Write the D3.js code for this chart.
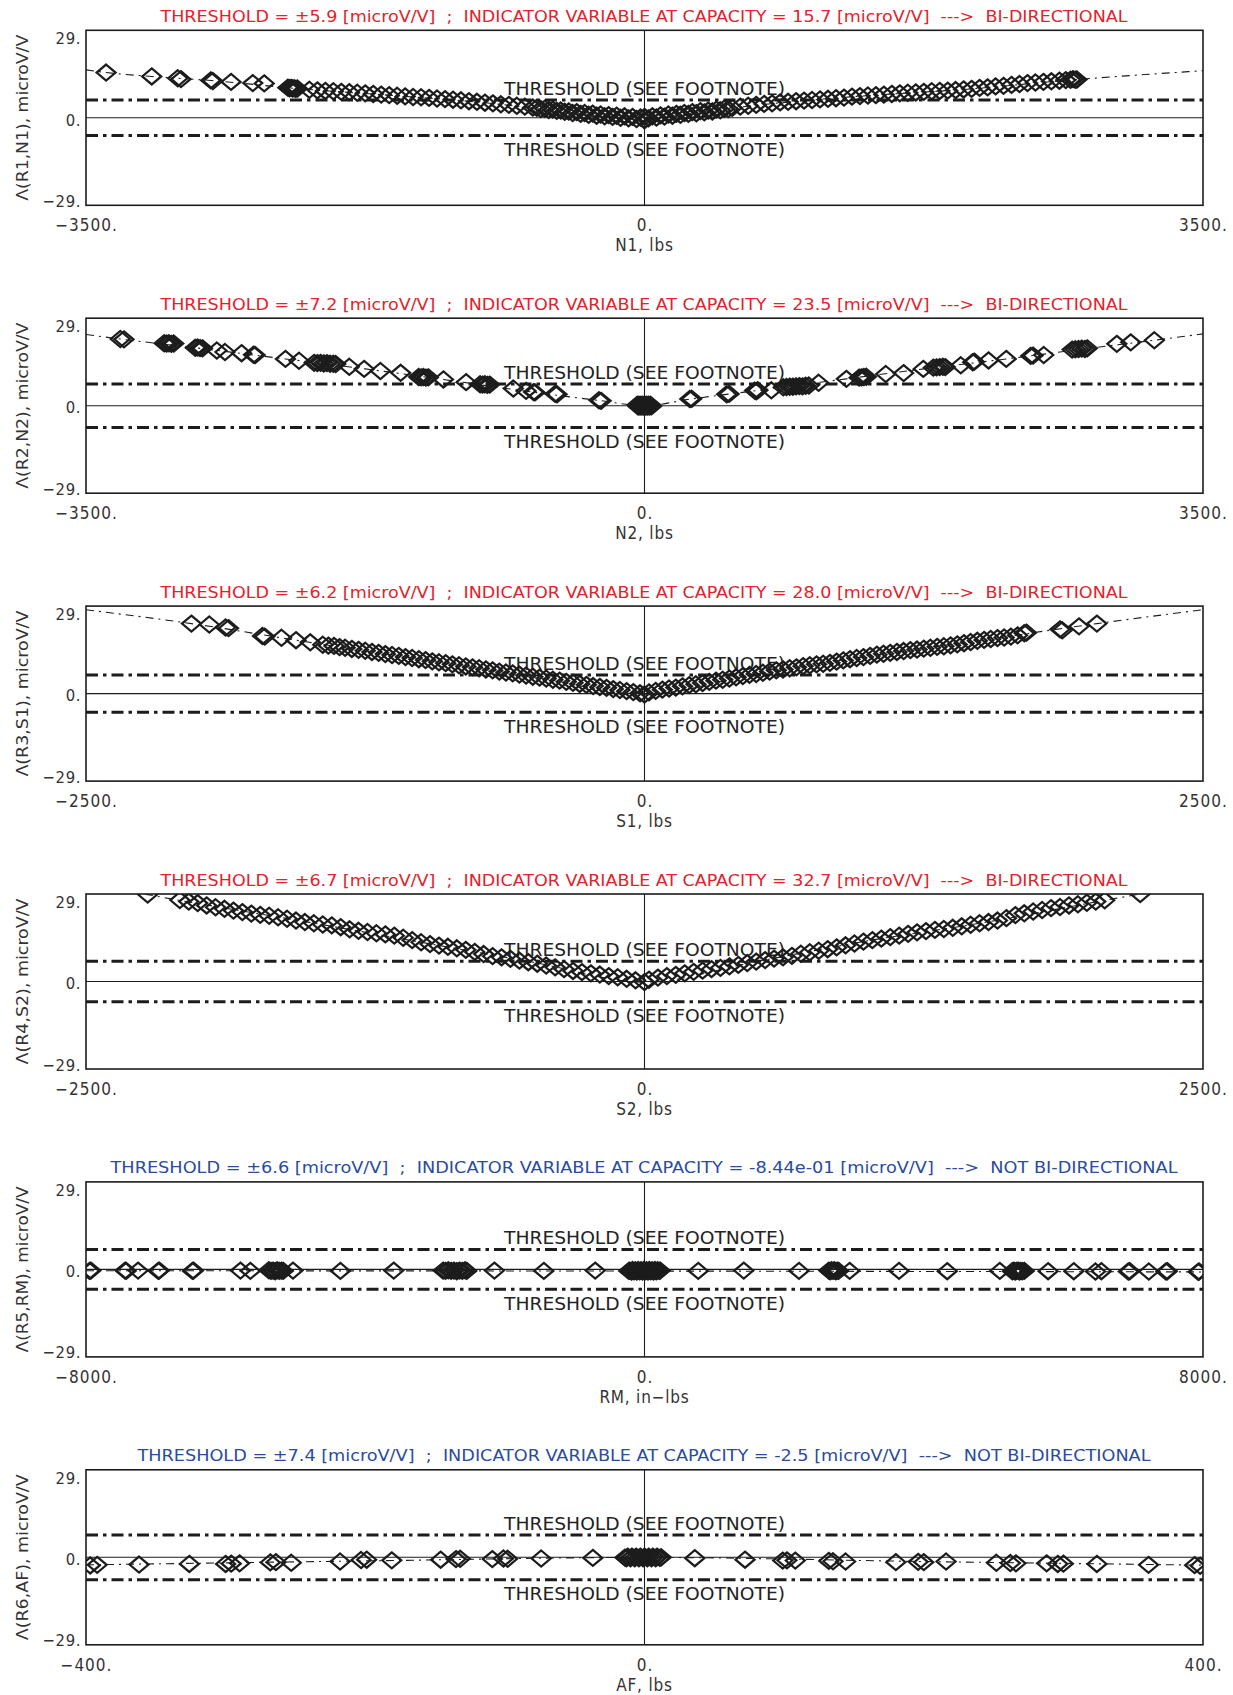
<!DOCTYPE html>
<html>
<head>
<meta charset="utf-8">
<script src="https://cdn.jsdelivr.net/npm/d3@7"></script>
<style>
  body { margin: 0; background: #fff; }
  svg { display: block; }
  text { font-family: "Liberation Sans Narrow", "DejaVu Sans Condensed", "Liberation Sans", sans-serif; }
</style>
</head>
<body>
<svg id="chart" width="1233" height="1695"></svg>
<script>
// ---------------------------------------------------------------- dados
// pares [carga, lambda microV/V]
const n1Points = [
  [-3374,15.0],[-3088,13.7],[-2925,13.1],[-2905,12.8],[-2718,12.4],[-2705,12.2],[-2591,11.9],[-2455,11.5],[-2383,11.4],
  [-2235,10.0],[-2225,9.8],[-2215,9.9],[-2205,9.7],[-2195,9.8],[-2185,9.6],[-2175,9.7],
  [-2100,9.3],[-2050,9.1],[-2000,8.9],[-1950,8.8],[-1900,8.6],[-1850,8.5],[-1800,8.3],[-1750,8.1],[-1700,7.9],
  [-1650,7.7],[-1600,7.5],[-1550,7.3],[-1500,7.1],[-1450,6.9],[-1400,6.8],[-1350,6.6],[-1300,6.4],[-1250,6.2],
  [-1200,6.0],[-1150,5.8],[-1100,5.5],[-1050,5.3],[-1000,5.0],[-950,4.8],[-900,4.5],[-850,4.3],[-800,4.0],
  [-750,3.7],[-700,3.4],[-675,3.3],[-650,2.9],[-625,3.0],[-600,2.6],[-575,2.7],[-550,2.3],[-525,2.4],[-500,2.0],
  [-475,2.1],[-450,1.6],[-425,1.9],[-400,1.3],[-375,1.6],[-350,1.0],[-325,1.4],[-300,0.7],[-275,1.1],[-250,0.5],
  [-225,0.9],[-200,0.3],[-175,0.7],[-150,0.0],[-125,0.5],[-100,-0.2],[-75,0.3],[-50,-0.4],[-25,0.1],[0,-0.8],
  [0,0.3],[25,-0.2],[50,0.5],[75,0.1],[100,0.8],[125,0.4],[150,1.1],[175,0.7],[200,1.3],[225,1.0],[250,1.6],
  [275,1.3],[300,1.9],[325,1.5],[350,2.2],[375,1.8],[400,2.4],[425,2.1],[450,2.7],[475,2.5],[500,3.0],[525,2.9],
  [550,3.3],[600,3.7],[650,4.0],[700,4.3],[750,4.6],[800,4.8],[850,5.1],[900,5.3],[950,5.5],[1000,5.7],
  [1050,5.9],[1100,6.1],[1150,6.3],[1200,6.5],[1250,6.7],[1300,7.0],[1350,7.2],[1400,7.4],[1450,7.5],[1500,7.7],
  [1550,7.9],[1600,8.1],[1650,8.3],[1700,8.4],[1750,8.6],[1800,8.8],[1850,8.9],[1900,9.0],[1950,9.2],[2000,9.4],
  [2050,9.6],[2100,9.9],[2150,10.1],[2200,10.4],[2250,10.6],[2300,10.9],[2350,11.2],[2400,11.5],[2450,11.7],
  [2500,11.9],[2550,12.1],[2600,12.3],[2640,12.5],[2670,12.6],[2685,12.8],[2700,12.6],[2710,12.7]
];
const n1Fit = [[-3500,15.9],[-3374,15.0],[-3088,13.7],[-2700,12.3],[-2200,9.8],[-1500,7.1],[-1000,5.0],
  [-500,2.0],[0,-0.2],[500,3.0],[1000,5.7],[1500,7.7],[2000,9.4],[2710,12.7],[3500,15.6]];

const n2Points = [
  [-3285,22.1],[-3262,22.0],
  [-3010,20.7],[-2995,20.6],[-2980,20.7],[-2965,20.5],[-2950,20.6],
  [-2815,19.2],[-2800,19.3],[-2785,19.1],[-2770,19.0],
  [-2680,18.3],[-2629,17.8],[-2525,17.4],[-2450,16.9],[-2440,16.8],[-2250,15.5],[-2165,14.9],
  [-2070,14.2],[-2050,14.1],[-2030,14.2],[-2010,14.0],[-1990,14.1],[-1970,13.9],[-1950,13.9],[-1935,13.8],
  [-1850,12.9],[-1757,12.2],[-1655,11.5],[-1528,10.9],
  [-1415,9.5],[-1400,9.4],[-1385,9.5],[-1370,9.3],[-1355,9.4],
  [-1260,8.7],[-1118,7.8],
  [-1030,7.1],[-1015,7.0],[-1000,7.1],[-985,6.9],[-970,7.0],
  [-822,5.7],[-742,4.9],[-695,4.5],[-686,4.4],[-560,3.9],[-548,3.8],[-285,1.8],[-272,1.6],
  [-45,0.3],[-40,-0.3],[-34,0.3],[-28,-0.3],[-22,0.3],[-16,-0.3],[-10,0.3],[-4,-0.3],[2,0.3],[8,-0.3],
  [14,0.3],[20,-0.3],[26,0.3],[32,-0.3],[38,0.3],[44,-0.2],
  [284,2.2],[296,2.3],[515,3.8],[530,3.9],[690,5.0],[700,4.8],[710,5.1],[795,5.1],
  [870,6.1],[890,6.2],[910,6.3],[930,6.3],[950,6.4],[970,6.5],[990,6.4],[1010,6.6],[1030,6.7],
  [1091,7.6],[1265,8.9],[1345,9.3],[1360,9.4],[1375,9.5],[1390,9.6],
  [1512,10.5],[1624,10.8],[1747,12.2],
  [1810,12.6],[1830,12.7],[1850,12.8],[1870,12.9],[1885,12.8],
  [1982,13.4],[2057,14.4],[2067,14.6],[2156,15.0],[2267,15.5],[2420,16.5],[2435,16.6],[2502,16.8],
  [2680,18.6],[2700,18.7],[2720,18.8],[2740,18.9],[2760,18.8],[2775,19.0],
  [2960,20.5],[3047,21.0],[3195,21.7]
];
const n2Fit = [[-3500,23.6],[-3285,22.1],[-2800,19.1],[-2250,15.5],[-1750,12.2],[-1250,8.6],[-700,4.5],
  [-280,1.7],[0,0.0],[290,2.2],[700,5.0],[1265,8.9],[1750,12.2],[2270,15.5],[2750,18.8],[3195,21.7],[3500,23.8]];

const s1Points = [
  [-2028,23.2],[-1948,22.9],[-1875,21.9],[-1862,21.7],[-1710,19.1],[-1700,18.9],[-1625,18.5],[-1560,17.7],[-1496,17.0],
  [-1440,16.2],[-1415,15.9],[-1390,15.8],[-1365,15.4],[-1340,15.2],[-1310,14.8],[-1280,14.5],[-1250,14.2],
  [-1220,13.8],[-1190,13.5],[-1160,13.1],[-1130,12.8],[-1100,12.5],[-1070,12.1],[-1040,11.8],[-1010,11.4],
  [-980,11.1],[-950,10.7],[-920,10.4],[-890,10.1],[-860,9.7],[-830,9.4],[-800,9.0],[-770,8.7],[-740,8.4],
  [-710,8.0],[-680,7.7],[-650,7.3],[-620,7.0],[-590,6.7],[-560,6.3],[-530,6.0],[-500,5.6],[-470,5.3],
  [-440,5.0],[-410,4.6],[-380,4.3],[-350,3.9],[-320,3.6],[-290,3.2],[-260,2.9],[-230,2.5],[-200,2.2],
  [-170,1.9],[-140,1.5],[-110,1.2],[-80,0.8],[-50,0.5],[-20,0.1],[0,-0.3],
  [20,0.4],[50,0.9],[80,1.3],[110,1.7],[140,2.0],[170,2.4],[200,2.8],[230,3.1],[260,3.5],[290,3.9],
  [320,4.3],[350,4.6],[380,5.0],[410,5.4],[440,5.8],[470,6.2],[500,6.5],[530,6.9],[560,7.3],[590,7.7],
  [620,8.0],[650,8.4],[680,8.7],[710,9.1],[740,9.4],[770,9.7],[800,9.9],[830,10.2],[860,10.6],[890,11.0],
  [920,11.4],[950,11.8],[980,12.1],[1010,12.5],[1040,12.9],[1070,13.2],[1100,13.5],[1130,13.8],[1160,14.1],
  [1190,14.4],[1220,14.6],[1250,14.9],[1280,15.2],[1310,15.5],[1340,15.7],[1370,16.0],[1400,16.3],[1430,16.7],
  [1460,17.1],[1490,17.5],[1520,17.8],[1550,18.1],[1580,18.4],[1610,18.6],[1640,18.9],[1670,19.3],[1700,20.0],
  [1710,20.2],[1860,21.3],[1870,21.0],[1945,22.3],[2025,23.2]
];
const s1Fit = [[-2500,27.8],[-2028,23.2],[-1500,17.0],[-1000,11.3],[-500,5.6],[0,-0.2],
  [500,6.5],[1000,12.4],[1500,17.6],[2025,23.2],[2500,27.8]];

const s2Points = [
  [-2224,28.8],[-2080,27.0],[-2040,26.5],[-2000,26.0],[-1960,25.2],[-1920,24.6],[-1880,24.1],[-1840,23.5],
  [-1800,23.0],[-1760,22.5],[-1720,22.1],[-1680,21.8],[-1640,21.3],[-1600,20.8],[-1560,20.2],[-1520,19.7],
  [-1480,19.3],[-1440,18.9],[-1400,18.6],[-1360,18.0],[-1320,17.3],[-1280,16.8],[-1240,16.4],[-1200,16.0],
  [-1160,15.6],[-1120,15.2],[-1080,14.5],[-1040,13.7],[-1000,13.0],[-960,12.4],[-920,11.9],[-880,11.5],
  [-840,11.0],[-800,10.5],[-760,9.8],[-720,9.1],[-680,8.4],[-640,8.0],[-600,7.5],[-560,6.9],[-520,6.4],
  [-480,5.9],[-440,5.3],[-400,4.7],[-360,4.1],[-320,3.5],[-280,3.1],[-240,2.7],[-200,2.3],[-160,1.8],
  [-120,1.4],[-80,0.9],[-40,0.4],[0,-0.2],
  [20,0.6],[60,1.3],[100,1.8],[140,2.2],[180,2.7],[220,3.2],[260,3.6],[300,4.1],[340,4.5],[380,5.0],
  [420,5.5],[460,6.1],[500,6.6],[540,7.1],[580,7.6],[620,8.0],[660,8.5],[700,9.2],[740,9.7],[780,10.2],
  [820,10.7],[860,11.3],[900,12.0],[940,12.6],[980,13.2],[1020,13.7],[1060,14.2],[1100,14.7],[1140,15.2],
  [1180,15.8],[1220,16.3],[1260,16.7],[1300,17.1],[1340,17.4],[1380,17.8],[1420,18.3],[1460,18.8],[1500,19.3],
  [1540,19.7],[1580,20.2],[1620,21.0],[1660,22.0],[1700,22.6],[1740,23.2],[1780,23.7],[1820,24.3],[1860,24.7],
  [1900,25.2],[1940,25.6],[1980,26.1],[2020,26.5],[2060,26.9],[2219,29.0]
];
const s2Fit = [[-2500,32.7],[-2224,28.8],[-1500,19.6],[-1000,13.0],[-500,6.4],[0,-0.2],
  [500,6.6],[1000,13.5],[1500,19.3],[2060,26.9],[2219,29.0],[2500,32.7]];

const rmPoints = [
  [-7950,-0.5],[-7930,-0.4],[-7440,-0.4],[-7425,-0.5],[-7254,-0.4],[-6965,-0.5],[-6950,-0.4],[-6475,-0.5],
  [-6460,-0.4],[-5788,-0.4],[-5646,-0.5],
  [-5380,-0.3],[-5350,-0.5],[-5320,-0.4],[-5290,-0.6],[-5260,-0.3],[-5230,-0.5],[-5200,-0.4],[-5175,-0.5],
  [-5035,-0.4],[-4356,-0.5],[-3592,-0.4],
  [-2885,-0.4],[-2850,-0.5],[-2810,-0.3],[-2770,-0.5],[-2730,-0.4],[-2690,-0.6],[-2650,-0.4],[-2610,-0.5],
  [-2570,-0.3],[-2546,-0.5],
  [-2150,-0.4],[-1442,-0.5],[-706,-0.4],
  [-225,-0.5],[-210,-0.4],[-185,-0.7],[-170,-0.2],[-150,-0.6],[-130,-0.3],[-110,-0.7],[-90,-0.2],[-70,-0.6],
  [-50,-0.3],[-30,-0.7],[-10,-0.2],[10,-0.6],[30,-0.3],[50,-0.7],[70,-0.2],[90,-0.6],[110,-0.3],[130,-0.7],
  [150,-0.2],[170,-0.6],[190,-0.3],[210,-0.5],[225,-0.4],
  [770,-0.5],[1422,-0.4],[2213,-0.5],
  [2640,-0.4],[2660,-0.6],[2680,-0.3],[2700,-0.5],[2720,-0.3],[2740,-0.6],[2760,-0.4],[2780,-0.5],
  [2939,-0.5],[3646,-0.5],[4336,-0.6],[5089,-0.5],
  [5270,-0.6],[5290,-0.4],[5310,-0.7],[5330,-0.5],[5350,-0.4],[5370,-0.7],[5390,-0.5],[5410,-0.6],[5440,-0.5],
  [5781,-0.6],[6149,-0.6],[6460,-0.7],[6544,-0.6],[6930,-0.7],[6950,-0.6],[7224,-0.7],[7470,-0.7],
  [7488,-0.6],[7931,-0.8],[7945,-0.7]
];
const rmFit = [[-8000,-0.45],[0,-0.55],[8000,-0.84]];

const afPoints = [
  [-397,-2.7],[-392,-2.5],[-362,-2.4],[-326,-2.2],[-300,-2.2],[-296,-2.1],[-290,-2.0],[-268,-1.7],[-264,-1.6],
  [-253,-1.8],[-218,-1.4],[-203,-0.9],[-199,-0.8],[-181,-1.0],[-146,-0.8],[-135,-0.6],[-132,-0.5],[-109,-0.6],
  [-101,-0.4],[-98,-0.5],[-74,-0.4],[-37,-0.2],
  [-14,-0.1],[-13,-0.3],[-12,0.2],[-10,-0.3],[-9,0.2],[-7,-0.3],[-6,0.2],[-4,-0.3],[-3,0.2],[-1,-0.3],
  [0,0.2],[2,-0.3],[3,0.2],[5,-0.3],[6,0.2],[8,-0.3],[9,0.2],[11,-0.2],[12,0.0],
  [36,-0.3],[72,-0.8],[99,-1.1],[102,-1.0],[108,-1.1],[132,-1.2],[135,-1.3],[144,-1.4],[180,-1.6],
  [196,-1.5],[200,-1.6],[216,-1.4],[252,-1.8],[262,-1.9],[266,-2.0],[288,-2.0],[296,-2.2],[300,-2.1],
  [324,-2.2],[361,-2.5],[394,-2.6],[398,-2.8]
];
const afFit = [[-400,-2.5],[-200,-1.2],[0,-0.05],[200,-1.4],[400,-2.6]];

const xLimits = [3500, 3500, 2500, 2500, 8000, 400];
const xTickLabels = [
  ['−3500.', '0.', '3500.'], ['−3500.', '0.', '3500.'], ['−2500.', '0.', '2500.'],
  ['−2500.', '0.', '2500.'], ['−8000.', '0.', '8000.'], ['−400.', '0.', '400.'],
];
const yTickLabels = ['−29.', '0.', '29.'];
const xAxisLabels = ['N1, lbs', 'N2, lbs', 'S1, lbs', 'S2, lbs', 'RM, in−lbs', 'AF, lbs'];
const yAxisLabels = ['Λ(R1,N1), microV/V', 'Λ(R2,N2), microV/V', 'Λ(R3,S1), microV/V',
  'Λ(R4,S2), microV/V', 'Λ(R5,RM), microV/V', 'Λ(R6,AF), microV/V'];
const thresholds = [5.9, 7.2, 6.2, 6.7, 6.6, 7.4];
const capacityValues = ['15.7', '23.5', '28.0', '32.7', '-8.44e-01', '-2.5'];
const biDirectional = [true, true, true, true, false, false];

// ---------------------------------------------------------------- layout
const plotLeft = 86, plotRight = 1203, firstTop = 30.3, panelStep = 287.9, plotH = 175;
const titleWidths = [967, 967, 967, 967, 1067, 1013];
const INK = '#1c1c1c';

const svg = d3.select('#chart');
svg.append('rect').attr('width', 1233).attr('height', 1695).attr('fill', '#fff');
const defs = svg.append('defs');

const panelPoints = [n1Points, n2Points, s1Points, s2Points, rmPoints, afPoints];
const panelFits = [n1Fit, n2Fit, s1Fit, s2Fit, rmFit, afFit];

const diamond = 'M0,-8L9.5,0L0,8L-9.5,0Z';

panelPoints.forEach((pts, i) => {
  const top = firstTop + i * panelStep;
  const bottom = top + plotH;
  const lim = xLimits[i];
  const x = d3.scaleLinear().domain([-lim, lim]).range([plotLeft, plotRight]);
  const y = d3.scaleLinear().domain([-29, 29]).range([bottom, top]);
  const g = svg.append('g');

  defs.append('clipPath').attr('id', `clip${i}`)
    .append('rect').attr('x', plotLeft).attr('y', top)
    .attr('width', plotRight - plotLeft).attr('height', plotH);

  // eixos de zero
  g.append('line')
    .attr('x1', plotLeft).attr('x2', plotRight).attr('y1', y(0)).attr('y2', y(0))
    .attr('stroke', INK).attr('stroke-width', 1.1);
  g.append('line')
    .attr('x1', x(0)).attr('x2', x(0)).attr('y1', top).attr('y2', bottom)
    .attr('stroke', INK).attr('stroke-width', 1.1);

  // limiares +/- (traço-ponto grosso)
  const thr = thresholds[i];
  for (const t of [thr, -thr]) {
    g.append('line')
      .attr('x1', plotLeft).attr('x2', plotRight).attr('y1', y(t)).attr('y2', y(t))
      .attr('stroke', INK).attr('stroke-width', 3).attr('stroke-dasharray', '12,5,3.5,5');
  }
  g.append('text')
    .attr('x', 504).attr('y', y(thr) - 5)
    .attr('textLength', 281).attr('lengthAdjust', 'spacingAndGlyphs')
    .attr('font-size', 18.5).attr('fill', '#222')
    .text('THRESHOLD (SEE FOOTNOTE)');
  g.append('text')
    .attr('x', 504).attr('y', y(-thr) + 20.5)
    .attr('textLength', 281).attr('lengthAdjust', 'spacingAndGlyphs')
    .attr('font-size', 18.5).attr('fill', '#222')
    .text('THRESHOLD (SEE FOOTNOTE)');

  const inner = g.append('g').attr('clip-path', `url(#clip${i})`);

  // curva ajustada (traço-ponto fino)
  const line = d3.line().x((d) => x(d[0])).y((d) => y(d[1])).curve(d3.curveMonotoneX);
  inner.append('path')
    .attr('d', line(panelFits[i]))
    .attr('fill', 'none').attr('stroke', INK).attr('stroke-width', 1.1)
    .attr('stroke-dasharray', '8,5,2,5');

  // losangos
  inner.selectAll('path.pt').data(pts).join('path')
    .attr('class', 'pt')
    .attr('d', diamond)
    .attr('transform', (d) => `translate(${x(d[0])},${y(d[1])})`)
    .attr('fill', 'none').attr('stroke', INK).attr('stroke-width', 2.2);

  // moldura
  g.append('rect')
    .attr('x', plotLeft).attr('y', top)
    .attr('width', plotRight - plotLeft).attr('height', plotH)
    .attr('fill', 'none').attr('stroke', INK).attr('stroke-width', 1.6);

  // eixo y
  const yAxis = g.append('g').attr('transform', `translate(${plotLeft},0)`)
    .call(d3.axisLeft(y).tickValues([-29, 0, 29]).tickSize(0).tickPadding(5)
      .tickFormat((d, j) => yTickLabels[j]));
  yAxis.select('.domain').remove();
  yAxis.selectAll('text')
    .attr('font-size', 16.5).attr('fill', '#333').attr('font-family', null)
    .style('letter-spacing', '0.6px')
    .attr('dy', (d, j) => ['0.06em', '0.44em', '0.81em'][j]);

  // eixo x
  const xAxis = g.append('g').attr('transform', `translate(0,${bottom})`)
    .call(d3.axisBottom(x).tickValues([-lim, 0, lim]).tickSize(0)
      .tickFormat((d, j) => xTickLabels[i][j]));
  xAxis.select('.domain').remove();
  xAxis.selectAll('text')
    .attr('font-size', 17).attr('fill', '#333').attr('font-family', null)
    .style('letter-spacing', '1px')
    .attr('y', 26).attr('dy', 0);

  g.append('text')
    .attr('x', x(0)).attr('y', bottom + 46)
    .attr('text-anchor', 'middle').attr('font-size', 17).attr('fill', '#333')
    .style('letter-spacing', '0.8px')
    .text(xAxisLabels[i]);

  g.append('text')
    .attr('transform', `translate(28,${(top + bottom) / 2}) rotate(-90)`)
    .attr('text-anchor', 'middle').attr('font-size', 16).attr('fill', '#333')
    .attr('textLength', 166).attr('lengthAdjust', 'spacingAndGlyphs')
    .text(yAxisLabels[i]);

  // título
  const bi = biDirectional[i];
  const titulo = `THRESHOLD = ±${thr.toFixed(1)} [microV/V]  ;  INDICATOR VARIABLE AT CAPACITY = ${capacityValues[i]} [microV/V]  --->  ${bi ? 'BI-DIRECTIONAL' : 'NOT BI-DIRECTIONAL'}`;
  g.append('text')
    .attr('x', 644).attr('y', top - 8.5)
    .attr('text-anchor', 'middle').attr('font-size', 16.5)
    .attr('fill', bi ? '#e5212b' : '#2a4b9e')
    .attr('textLength', titleWidths[i]).attr('lengthAdjust', 'spacingAndGlyphs')
    .style('white-space', 'pre')
    .text(titulo);
});
</script>
</body>
</html>
